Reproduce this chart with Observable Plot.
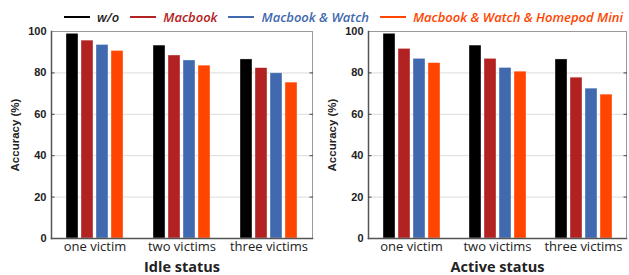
<!DOCTYPE html>
<html>
<head>
<meta charset="utf-8">
<script src="https://cdn.jsdelivr.net/npm/d3@7"></script>
<script src="https://cdn.jsdelivr.net/npm/@observablehq/plot@0.6"></script>
<style>
  html, body { margin: 0; padding: 0; background: #fff; }
  #wrap { position: relative; width: 629px; height: 275px; overflow: hidden; }
  #legend { position: absolute; left: 64px; top: 8px; height: 18px; display: flex; align-items: center;
            font-family: "Open Sans", sans-serif; font-style: italic; font-weight: 600; font-size: 13px; white-space: nowrap; }
  #legend .item { display: flex; align-items: center; margin-right: 11px; }
  #legend .line { display: inline-block; width: 26px; height: 2.5px; margin-right: 7px; }
  #left { position: absolute; left: 0; top: 20px; }
  #right { position: absolute; left: 316px; top: 20px; }
</style>
</head>
<body>
<div id="wrap">
  <div id="legend"></div>
  <div id="left"></div>
  <div id="right"></div>
</div>
<script>
const groups = ["one victim", "two victims", "three victims"];
const series = ["w/o", "Macbook", "Macbook & Watch", "Macbook & Watch & Homepod Mini"];
const colors = ["#000000", "#b22222", "#4169b0", "#ff4500"];
const idleValues = [
  [98.9, 95.6, 93.5, 90.6],
  [93.2, 88.4, 86.0, 83.5],
  [86.5, 82.3, 79.8, 75.3]
];
const activeValues = [
  [98.9, 91.6, 86.8, 84.7],
  [93.2, 86.8, 82.4, 80.6],
  [86.5, 77.7, 72.4, 69.5]
];
const yTicks = [0, 20, 40, 60, 80, 100];
const gridTicks = [20, 40, 60, 80];

// legend
const legend = document.getElementById("legend");
series.forEach((s, i) => {
  const item = document.createElement("div");
  item.className = "item";
  const line = document.createElement("span");
  line.className = "line";
  line.style.background = colors[i];
  const label = document.createElement("span");
  label.textContent = s;
  label.style.color = colors[i] === "#000000" ? "#222" : colors[i];
  item.appendChild(line);
  item.appendChild(label);
  legend.appendChild(item);
});

function makePanel(values, title, width, marginLeft, marginRight) {
  const data = [];
  groups.forEach((g, gi) => series.forEach((s, si) => data.push({group: g, series: s, value: values[gi][si]})));
  return Plot.plot({
    width, height: 255,
    marginTop: 11, marginBottom: 37, marginLeft, marginRight,
    fx: {domain: groups, padding: 0},
    x: {domain: series, paddingInner: 0.23, paddingOuter: 0.855, axis: null},
    y: {domain: [0, 100]},
    color: {domain: series, range: colors},
    marks: [
      Plot.gridY(gridTicks, {stroke: "#dcdcdc", strokeOpacity: 1, strokeWidth: 1}),
      Plot.barY(data, {fx: "group", x: "series", y: "value", fill: "series", stroke: "#ffffff", strokeWidth: 0.6, strokeOpacity: 0.6}),
      Plot.frame({facet: "super", stroke: "#9a9a9a", strokeWidth: 1}),
      Plot.frame({facet: "super", anchor: "left", stroke: "#555", strokeWidth: 1.5}),
      Plot.frame({facet: "super", anchor: "bottom", stroke: "#555", strokeWidth: 1.5}),
      Plot.axisY(yTicks, {anchor: "left", tickSize: 0, tickPadding: 5, label: "Accuracy (%)", labelAnchor: "center", labelOffset: 41, labelArrow: "none",
        fontFamily: "Liberation Sans, Arial, sans-serif", fontWeight: "bold", fontSize: 11, fill: "#222"}),
      Plot.axisY(gridTicks, {anchor: "left", tickSize: -3.5, text: null, label: null, stroke: "#444", strokeWidth: 1}),
      Plot.axisY(gridTicks, {anchor: "right", tickSize: -3.5, text: null, label: null, stroke: "#444", strokeWidth: 1}),
      Plot.axisFx({anchor: "bottom", tickSize: 0, tickPadding: 3, label: title, labelAnchor: "center", labelOffset: 33, labelArrow: "none",
        fontFamily: "Open Sans, sans-serif", fontSize: 13, fill: "#222"})
    ]
  });
}

const leftPlot = makePanel(idleValues, "Idle status", 316, 50, 3);
const rightPlot = makePanel(activeValues, "Active status", 313, 51, 2);
document.getElementById("left").appendChild(leftPlot);
document.getElementById("right").appendChild(rightPlot);

// axis label styling
for (const svg of [leftPlot, rightPlot]) {
  svg.querySelectorAll("[aria-label='fx-axis label'] text").forEach(t => {
    t.setAttribute("font-weight", "bold"); t.setAttribute("font-size", "14.5");
  });
  svg.querySelectorAll("[aria-label='y-axis label'] text").forEach(t => {
    t.setAttribute("font-size", "11.5");
  });
}
</script>
</body>
</html>
